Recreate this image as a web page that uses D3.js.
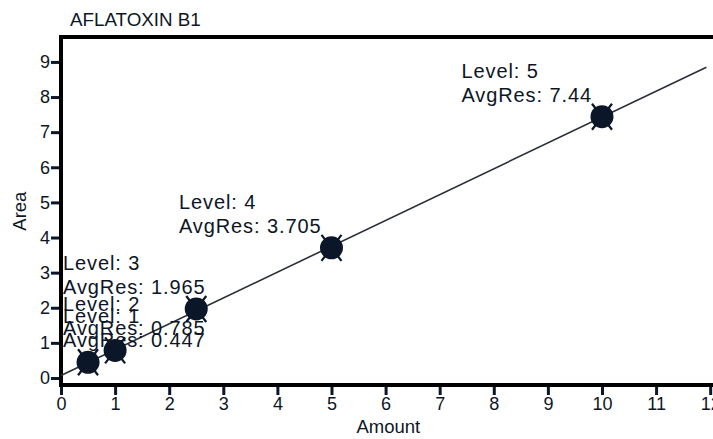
<!DOCTYPE html>
<meta charset="utf-8">
<style>

body {
  margin: 0;
  background: #fff;
}

text {
  fill: #0d1626;
  font-family: "Liberation Sans", Arial, sans-serif;
}

.axis path {
  display: none;
}

.axis line {
  stroke: #0b1628;
  stroke-width: 3px;
}

.axis text {
  font-size: 18px;
}

text.label {
  font-size: 18.5px;
}

text.title {
  font-size: 18.8px;
}

text.note {
  font-size: 20px;
  letter-spacing: 0.9px;
}

</style>
<svg width="713" height="439"></svg>
<script src="https://d3js.org/d3.v7.min.js"></script>
<script>
// calibration levels
const levels = [1, 2, 3, 4, 5]
const amounts = [0.5, 1, 2.5, 5, 10]
const avgRes = [0.447, 0.785, 1.965, 3.705, 7.44]

// fitted curve end points
const fitX = [0, 11.93]
const fitY = [0.07, 8.85]

const xTicks = [0, 1, 2, 3, 4, 5, 6, 7, 8, 9, 10, 11, 12]
const yTicks = [0, 1, 2, 3, 4, 5, 6, 7, 8, 9]

var svg = d3.select("svg"),
    margin = {top: 37, right: -8, bottom: 54, left: 61},
    width = +svg.attr("width") - margin.left - margin.right,
    height = +svg.attr("height") - margin.top - margin.bottom,
    g = svg.append("g").attr("transform", "translate(" + margin.left + "," + margin.top + ")");

var x = d3.scaleLinear()
    .domain([0, 12.2])
    .range([0, width])

var y = d3.scaleLinear()
    .domain([-0.2, 9.71])
    .range([height, 0])

var points = amounts.map((d, i) => ({level: levels[i], amount: d, res: avgRes[i]}))

// title
svg.append("text")
    .classed("title", true)
    .attr("x", 70)
    .attr("y", 26)
    .text("AFLATOXIN B1")

// axes
g.append("g")
    .classed("axis axis--y", true)
    .call(d3.axisLeft(y).tickValues(yTicks).tickSize(10).tickPadding(1))

g.append("g")
    .classed("axis axis--x", true)
    .attr("transform", `translate(0, ${height})`)
    .call(d3.axisBottom(x).tickValues(xTicks).tickSize(10).tickPadding(2))

// frame
g.append("rect")
    .attr("x", 0)
    .attr("y", 0)
    .attr("width", width)
    .attr("height", height)
    .attr("fill", "none")
    .attr("stroke", "#000")
    .attr("stroke-width", 4)

// axis titles
g.append("text")
    .classed("label", true)
    .attr("x", x(6.05))
    .attr("y", height + 48)
    .attr("text-anchor", "middle")
    .text("Amount")

svg.append("text")
    .classed("label", true)
    .attr("transform", "translate(26," + (margin.top + y(4.75)) + ") rotate(-90)")
    .attr("text-anchor", "middle")
    .text("Area")

// fit line
g.append("line")
    .attr("x1", x(fitX[0]))
    .attr("y1", y(fitY[0]))
    .attr("x2", x(fitX[1]))
    .attr("y2", y(fitY[1]))
    .attr("stroke", "#2a2f38")
    .attr("stroke-width", 1.6)

// markers
const marks = g.selectAll(".mark")
    .data(points)
    .enter().append("g")
    .classed("mark", true)
    .attr("transform", d => `translate(${x(d.amount)},${y(d.res)})`)

marks.append("path")
    .attr("d", "M-10,-13L10,13M10,-13L-10,13")
    .attr("stroke", "#0b1628")
    .attr("stroke-width", 2.2)

marks.append("circle")
    .attr("r", 11.5)
    .attr("fill", "#0b1628")

// notes
const notes = g.selectAll(".notes")
    .data(points)
    .enter().append("g")
    .classed("notes", true)

notes.append("text")
    .classed("note note--res", true)
    .attr("y", d => y(d.res) - 15)
    .text(d => "AvgRes: " + d.res)

notes.append("text")
    .classed("note note--level", true)
    .attr("y", d => y(d.res) - 39)
    .text(d => "Level: " + d.level)

notes.each(function(d) {
  const note = d3.select(this)
  const w = note.select(".note--res").node().getComputedTextLength()
  const left = Math.max(2, x(d.amount) - 10 - w)
  note.selectAll("text").attr("x", left)
})

</script>
